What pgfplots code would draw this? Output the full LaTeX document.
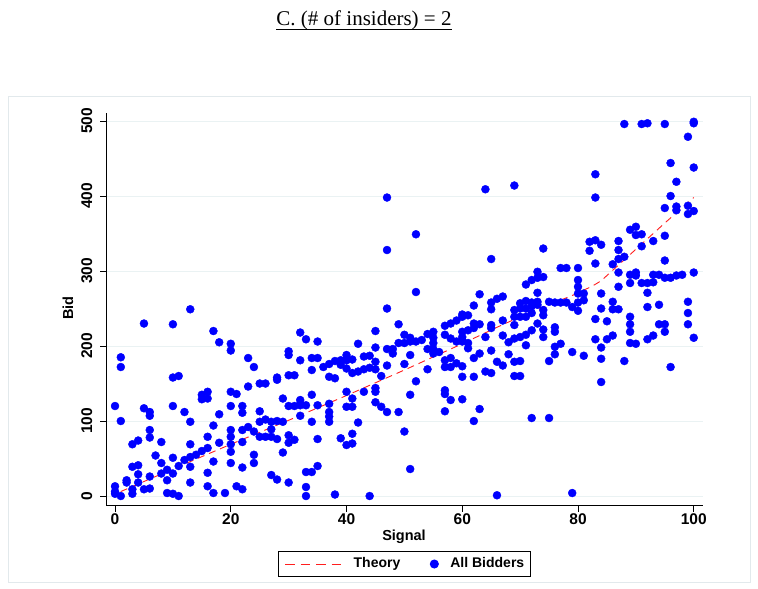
\documentclass[border=0pt]{standalone}
\usepackage{fontspec}
\setmainfont{Liberation Sans}
\newfontfamily\titlefont{Liberation Serif}
\usepackage{pgfplots}
\pgfplotsset{compat=1.18}
\usepackage{pgfplotstable}
\definecolor{gridc}{RGB}{234,242,243}
\definecolor{framec}{RGB}{226,233,236}
\definecolor{bidblue}{RGB}{0,0,255}
\definecolor{theored}{RGB}{255,30,30}
\pgfplotsset{
  leglong/.style={legend image code/.code={\draw[##1, dash pattern=on 9.5bp off 6bp] (0bp,0bp) -- (56bp,0bp);}},
  legdot/.style={legend image code/.code={\draw[##1] plot coordinates {(4bp,0bp)};}},
}

\pgfplotstableread{
x y
0 120
0 13
0 6
0 3
1 0
1 100
1 172
1 185
2 18
2 21
3 3
3 9
3 39
3 69
4 18
4 29
4 41
4 74
5 9
5 117
5 230
6 10
6 26
6 78
6 88
6 107
6 112
7 54
8 30
8 44
8 72
9 4
9 21
9 35
10 3
10 30
10 51
10 120
10 158
10 229
11 0
11 40
11 160
12 48
12 112
13 18
13 39
13 52
13 69
13 99
13 249
14 55
15 60
15 129
15 135
16 13
16 31
16 64
16 79
16 130
16 139
17 4
17 46
17 94
17 220
18 71
18 109
18 205
19 4
20 44
20 59
20 69
20 79
20 88
20 120
20 139
20 194
20 203
21 13
21 136
22 9
22 38
22 72
22 88
22 111
22 120
23 92
23 146
23 184
24 44
24 55
24 86
24 172
25 79
25 99
25 113
25 150
26 79
26 102
26 150
27 28
27 79
27 89
27 99
28 22
28 76
28 100
28 155
28 158
29 58
29 99
29 130
30 18
30 71
30 81
30 120
30 161
30 188
30 193
31 75
31 120
31 161
32 107
32 123
32 181
32 218
32 121
32 128
33 0
33 12
33 32
33 121
33 209
34 32
34 99
34 135
34 168
34 184
35 40
35 76
35 121
35 184
35 206
36 172
37 99
37 106
37 112
37 123
37 159
37 176
38 2
38 157
38 180
39 77
39 175
39 181
40 68
40 119
40 139
40 170
40 181
40 188
41 70
41 83
41 119
41 130
41 164
41 182
42 98
42 166
42 203
43 139
43 169
43 186
44 0
44 171
44 187
45 125
45 139
45 144
45 169
45 179
45 198
45 220
46 119
46 160
47 112
47 174
47 196
47 250
47 328
47 398
48 190
48 196
49 112
49 204
49 229
50 86
50 176
50 204
50 215
51 36
51 135
51 188
51 206
51 211
52 153
52 206
52 272
52 349
53 208
54 169
54 196
54 216
55 190
55 196
55 204
55 211
55 219
56 192
57 113
57 136
57 141
57 172
57 181
57 215
57 227
58 128
58 172
58 184
58 210
58 230
59 177
59 206
59 234
60 129
60 159
60 173
60 206
60 208
60 212
60 219
60 239
60 242
61 197
61 204
61 221
61 241
62 100
62 159
62 184
62 224
62 230
62 254
63 116
63 190
63 229
63 269
64 166
64 212
64 409
65 164
65 194
65 224
65 228
65 249
65 258
65 316
66 1
66 179
66 263
67 266
67 234
67 214
67 174
68 205
68 189
69 414
69 248
69 239
69 228
69 210
69 179
69 160
70 257
70 250
70 239
70 212
70 180
70 160
71 282
71 260
71 250
71 239
71 215
71 201
72 288
72 258
72 253
72 244
72 221
72 104
73 299
73 291
73 271
73 259
73 255
73 230
74 330
74 292
74 248
74 241
74 222
74 212
75 259
75 180
75 104
76 258
76 225
76 219
76 199
76 189
77 304
77 258
77 203
78 304
78 258
79 252
79 192
79 4
80 304
80 288
80 279
80 270
80 258
80 247
81 270
81 261
81 187
82 339
82 327
83 429
83 398
83 341
83 310
83 236
83 209
84 335
84 270
84 250
84 198
84 183
84 152
85 233
85 209
86 309
86 259
86 249
86 214
87 340
87 328
87 316
87 298
87 279
87 249
88 496
88 319
88 180
89 355
89 295
89 284
89 239
89 229
89 219
89 204
90 359
90 348
90 298
90 294
90 203
91 496
91 349
91 333
91 284
92 497
92 284
92 271
92 252
92 209
93 340
93 295
93 285
93 214
94 295
94 255
94 229
95 496
95 384
95 347
95 314
95 291
95 229
95 219
96 444
96 400
96 291
96 172
97 419
97 386
97 381
97 294
98 295
99 479
99 387
99 376
99 259
99 244
99 229
100 499
100 497
100 438
100 380
100 298
100 211
}\bidders

\pgfplotstableread{
x y
1 6
10 36
20 69
30 101
40 134
50 168
60 203
66 225
70 239
75 255
79.5 269
82.5 280
84 287
90 329
95 364
100 398
}\theory

\begin{document}
\begin{tikzpicture}
\useasboundingbox (0,0) rectangle (758bp,589bp);
% graph region frame
\draw[framec, line width=0.8bp] (8bp,7bp) rectangle (750bp,493bp);
% title
\node[font=\titlefont\fontsize{21bp}{24bp}\selectfont, anchor=base, inner sep=0pt] (t) at (364bp,563bp) {C. (\# of insiders) = 2};
\draw[line width=0.8bp] ([yshift=-3bp]t.base west) -- ([yshift=-3bp]t.base east);

\begin{axis}[
  at={(106bp,83.3bp)}, anchor=south west,
  scale only axis, width=597bp, height=392.7bp,
  xmin=-1.56, xmax=101.6, ymin=-12.9, ymax=510.7,
  axis lines*=left,
  axis line style={-, line width=1bp, black},
  tick align=outside, major tick length=6bp,
  tick style={black, line width=1bp},
  xtick={0,20,...,100}, ytick={0,100,...,500},
  ymajorgrids,
  grid style={draw=gridc, line width=1bp},
  /pgf/number format/assume math mode=true,
  ticklabel style={font=\fontsize{15.5bp}{17bp}\selectfont\bfseries},
  yticklabel style={rotate=90, anchor=south, inner sep=7.5bp},
  xticklabel style={anchor=north, inner sep=1.5bp},
  legend columns=2,
  legend style={at={(0.5,-0.1485)}, anchor=center, draw=black, line width=1bp,
    inner xsep=6bp, inner ysep=6bp,
    font=\fontsize{14bp}{16bp}\selectfont\bfseries,
    nodes={inner sep=0pt, text height=10bp, text depth=3bp},
    /tikz/every odd column/.append style={column sep=12bp},
    /tikz/every even column/.append style={column sep=30bp}},
]
\addplot[theored, line width=0.9bp, dash pattern=on 7bp off 5bp, leglong]
  table[x=x, y=y] {\theory};
\addlegendentry{Theory}
\addplot[only marks, mark=*, mark size=4bp, draw=bidblue, fill=bidblue, legdot]
  table[x=x, y=y] {\bidders};
\addlegendentry{All Bidders}
\end{axis}

\node[font=\fontsize{14.5bp}{16bp}\selectfont\bfseries, rotate=90] at (68bp,281bp) {Bid};
\node[font=\fontsize{14.5bp}{16bp}\selectfont\bfseries] at (404bp,52bp) {Signal};
\end{tikzpicture}
\end{document}
